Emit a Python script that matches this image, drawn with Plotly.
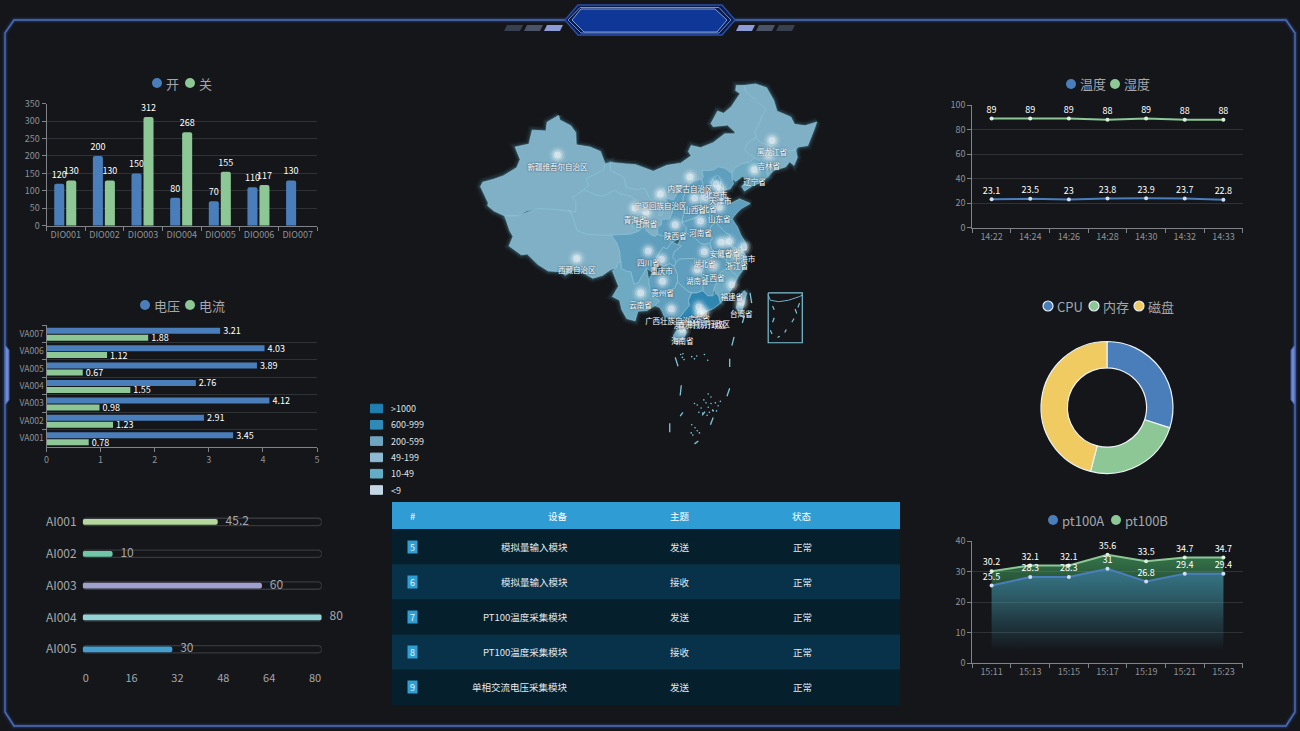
import plotly.graph_objects as go

W, H = 1300, 731
BG = "#14161a"
FONT = "Noto Sans CJK SC"
BLUE, GREEN, YELLOW = "#4a7ebb", "#8cc795", "#efcb62"
TICK, AXIS, GRID, LEG = "#8f9297", "#7f8388", "#303336", "#a4a7ac"

# ---------- chart data ----------
dio_names = ["DIO001", "DIO002", "DIO003", "DIO004", "DIO005", "DIO006", "DIO007"]
dio_open = [120, 200, 150, 80, 70, 110, 130]
dio_close = [130, 130, 312, 268, 155, 117, None]

va_names = ["VA001", "VA002", "VA003", "VA004", "VA005", "VA006", "VA007"]
va_voltage = [3.45, 2.91, 4.12, 2.76, 3.89, 4.03, 3.21]
va_current = [0.78, 1.23, 0.98, 1.55, 0.67, 1.12, 1.88]

ai_names = ["AI001", "AI002", "AI003", "AI004", "AI005"]
ai_values = [45.2, 10, 60, 80, 30]
ai_colors = ["#b4d89b", "#6fc7a8", "#a0a0cf", "#93d5d6", "#459fce"]
ai_ticks = [0, 16, 32, 48, 64, 80]
AI_MAX = 80

th_times = ["14:22", "14:24", "14:26", "14:28", "14:30", "14:32", "14:33"]
th_temp = [23.1, 23.5, 23, 23.8, 23.9, 23.7, 22.8]
th_hum = [89, 89, 89, 88, 89, 88, 88]

pt_times = ["15:11", "15:13", "15:15", "15:17", "15:19", "15:21", "15:23"]
pt_a = [25.5, 28.3, 28.3, 31, 26.8, 29.4, 29.4]
pt_b = [30.2, 32.1, 32.1, 35.6, 33.5, 34.7, 34.7]

pie_names = ["CPU", "内存", "磁盘"]
pie_values = [30, 24, 46]

tbl_headers = ["#", "设备", "主题", "状态"]
tbl_ids = ["5", "6", "7", "8", "9"]
tbl_devices = ["模拟量输入模块", "模拟量输入模块", "PT100温度采集模块", "PT100温度采集模块", "单相交流电压采集模块"]
tbl_topics = ["发送", "接收", "发送", "接收", "发送"]
tbl_status = ["正常", "正常", "正常", "正常", "正常"]

map_legend_labels = [">1000", "600-999", "200-599", "49-199", "10-49", "<9"]
map_legend_colors = ["#1f7fb0", "#2f8bb6", "#6ea6c1", "#8dbad0", "#63aec6", "#c3d6e3"]

# ---------- map data (lon, lat) ----------
XINJIANG = [(87.8,49.2),(85.7,48.3),(85.5,47.1),(83.0,47.2),(82.4,45.3),(79.9,44.9),(80.8,43.2),(80.2,42.1),(77.8,41.0),(76.0,40.5),(74.0,40.1),(73.6,39.5),(75.0,37.3),(74.9,36.9),(76.0,36.2),(78.0,35.5),(80.3,35.5),(82.0,36.2),(84.0,36.5),(86.0,36.1),(87.3,36.4),(89.5,36.2),(90.9,36.0),(91.0,37.3),(90.3,38.0),(92.4,39.1),(93.3,39.7),(92.8,40.6),(95.9,41.7),(96.3,42.5),(95.4,44.3),(93.5,44.9),(91.0,45.2),(90.9,46.9),(90.0,47.8),(88.0,48.6)]
XIZANG = [(78.0,35.5),(78.4,34.5),(78.9,33.5),(79.5,32.7),(78.8,31.4),(81.0,30.2),(82.1,30.3),(84.0,28.9),(85.9,28.0),(88.1,27.9),(89.0,27.4),(90.5,28.1),(92.1,27.8),(94.0,27.0),(95.8,27.4),(97.3,28.2),(98.3,28.4),(98.6,29.1),(99.1,29.3),(98.9,30.7),(98.4,31.8),(97.4,32.9),(95.0,32.9),(93.0,33.0),(91.2,33.5),(90.0,36.1),(87.3,36.4),(84.0,36.5),(80.3,35.5)]
QINGHAI = [(89.5,36.2),(90.9,36.0),(91.0,37.3),(90.3,38.0),(92.4,39.1),(94.5,38.4),(95.8,38.2),(98.0,39.0),(99.0,38.5),(100.9,38.2),(102.1,37.5),(102.9,36.8),(102.5,36.0),(102.0,35.4),(101.0,34.2),(102.3,33.4),(100.8,33.0),(99.5,33.0),(97.4,32.9),(95.0,32.9),(93.0,33.0),(91.2,33.5),(90.0,36.1)]
GANSU = [(92.4,39.1),(93.3,39.7),(92.8,40.6),(95.9,41.7),(96.3,42.6),(97.2,42.8),(97.2,41.7),(99.7,40.8),(100.1,39.4),(102.1,39.1),(103.4,39.3),(104.3,38.0),(104.9,37.5),(106.4,37.2),(107.3,37.0),(108.7,36.4),(108.0,35.1),(106.5,35.0),(106.5,34.3),(105.8,34.0),(105.8,33.0),(105.3,32.7),(104.4,33.0),(103.2,33.9),(102.3,33.4),(101.0,34.2),(102.0,35.4),(102.5,36.0),(102.9,36.8),(102.1,37.5),(100.9,38.2),(99.0,38.5),(98.0,39.0),(95.8,38.2),(94.5,38.4)]
NINGXIA = [(106.8,39.3),(106.2,38.7),(105.9,38.4),(104.9,37.5),(106.4,37.2),(106.0,35.6),(106.5,35.5),(106.9,36.5),(107.3,37.0),(107.4,37.9)]
NEIMENGGU = [(121.5,53.3),(120.1,53.3),(120.0,52.6),(120.8,52.2),(119.2,50.4),(117.8,49.5),(116.7,49.8),(115.5,48.1),(115.9,47.7),(118.5,47.9),(119.8,47.0),(119.9,46.7),(118.0,46.7),(115.9,45.5),(113.6,44.8),(111.9,45.1),(111.4,44.3),(111.9,43.7),(110.0,42.7),(107.5,42.4),(105.0,41.6),(101.8,42.5),(100.0,42.6),(97.2,42.8),(97.2,41.7),(99.7,40.8),(100.1,39.4),(102.1,39.1),(103.4,39.3),(104.3,38.0),(104.9,37.5),(105.9,38.4),(106.2,38.7),(106.8,39.3),(107.4,37.9),(108.7,37.7),(110.0,39.4),(111.1,39.5),(112.4,40.3),(113.8,40.5),(114.1,40.8),(113.9,41.7),(115.3,41.7),(116.0,41.8),(116.9,42.2),(118.0,42.0),(119.3,41.3),(119.8,42.0),(121.0,42.6),(122.4,42.8),(123.5,43.4),(122.5,43.9),(121.6,44.6),(122.1,45.3),(122.7,45.8),(123.7,46.2),(123.5,47.0),(124.4,48.3),(124.8,49.2),(125.5,50.0),(123.6,51.3),(121.8,52.5)]
HEILONGJIANG = [(121.5,53.3),(123.6,53.5),(125.6,53.0),(126.9,51.3),(127.5,49.8),(130.0,49.0),(130.7,48.0),(132.6,47.8),(134.7,48.3),(134.3,47.4),(133.1,45.1),(131.3,44.9),(130.9,44.5),(128.5,44.3),(127.5,44.6),(126.1,45.1),(124.5,45.5),(123.7,46.2),(123.5,47.0),(124.4,48.3),(124.8,49.2),(125.5,50.0),(123.6,51.3),(121.8,52.5)]
JILIN = [(123.7,46.2),(124.5,45.5),(126.1,45.1),(127.5,44.6),(128.5,44.3),(130.9,44.5),(131.2,43.5),(130.6,42.4),(129.8,42.9),(129.1,42.2),(128.0,42.0),(126.9,41.7),(125.9,40.9),(125.5,41.8),(124.5,42.9),(123.5,43.4),(122.5,43.9),(121.6,44.6),(122.1,45.3),(122.7,45.8)]
LIAONING = [(123.5,43.4),(124.5,42.9),(125.5,41.8),(125.9,40.9),(124.4,40.0),(123.2,39.7),(121.6,38.9),(121.1,39.5),(122.1,40.5),(121.2,40.9),(120.0,40.2),(119.3,40.6),(119.3,41.3),(119.8,42.0),(121.0,42.6),(122.4,42.8)]
HEBEI = [(119.3,41.3),(118.0,42.0),(116.9,42.2),(116.0,41.8),(115.3,41.7),(113.9,41.7),(114.1,40.8),(113.8,40.5),(114.1,39.5),(113.8,38.6),(113.6,37.2),(114.0,36.3),(115.3,36.1),(115.4,36.7),(116.2,37.4),(117.4,38.2),(117.8,38.6),(117.7,39.0),(118.2,39.1),(119.0,39.2),(119.6,39.9),(119.3,40.6)]
BEIJING = [(115.5,39.9),(116.3,39.5),(117.2,39.8),(117.4,40.3),(116.7,41.0),(116.0,40.7)]
TIANJIN = [(117.2,40.2),(117.7,39.6),(117.8,39.0),(117.5,38.6),(116.9,38.9),(117.2,39.5)]
SHANXI = [(111.1,39.5),(112.4,40.3),(113.8,40.5),(114.1,39.5),(113.8,38.6),(113.6,37.2),(114.0,36.3),(113.0,35.3),(112.0,35.1),(110.2,34.6),(110.5,36.0),(110.4,37.9)]
SHAANXI = [(110.0,39.4),(111.1,39.5),(110.4,37.9),(110.5,36.0),(110.2,34.6),(111.0,33.9),(110.9,33.2),(110.0,32.5),(108.4,31.9),(107.0,32.7),(105.8,33.0),(105.8,34.0),(106.5,34.3),(106.5,35.0),(108.0,35.1),(108.7,36.4),(107.3,37.0),(107.4,37.9),(108.7,37.7)]
SHANDONG = [(115.4,36.7),(116.2,37.4),(117.4,38.2),(118.5,38.0),(119.1,37.2),(120.7,37.8),(122.6,37.2),(121.0,36.5),(120.3,36.0),(119.3,35.1),(118.0,34.7),(116.4,34.6),(115.2,35.2),(115.3,36.1)]
HENAN = [(110.2,34.6),(112.0,35.1),(113.0,35.3),(114.0,36.3),(115.3,36.1),(115.2,35.2),(116.4,34.6),(115.5,34.1),(115.2,33.1),(115.8,32.5),(115.3,31.8),(114.3,31.6),(113.5,31.8),(112.7,32.4),(111.5,33.0),(110.9,33.2),(111.0,33.9)]
JIANGSU = [(116.4,34.6),(118.0,34.7),(119.3,35.1),(120.3,34.0),(120.9,32.9),(121.9,31.7),(121.2,31.3),(120.3,31.0),(119.6,31.2),(119.0,31.5),(118.5,32.2),(119.0,32.8),(118.2,33.2),(117.2,34.0)]
SHANGHAI = [(121.2,31.8),(121.9,31.6),(121.9,30.9),(121.2,30.8),(121.0,31.3)]
ANHUI = [(116.4,34.6),(117.2,34.0),(118.2,33.2),(119.0,32.8),(118.5,32.2),(119.0,31.5),(119.6,31.2),(119.2,30.3),(118.3,29.6),(117.4,29.7),(116.6,30.1),(115.9,30.3),(115.3,31.8),(115.8,32.5),(115.2,33.1),(115.5,34.1)]
ZHEJIANG = [(119.6,31.2),(120.3,31.0),(121.2,30.8),(121.9,30.0),(121.6,29.3),(121.7,28.5),(121.0,27.8),(120.4,27.2),(119.6,27.7),(118.8,28.2),(118.3,29.6),(119.2,30.3)]
JIANGXI = [(114.0,29.4),(115.9,29.8),(116.6,30.1),(117.4,29.7),(118.3,29.6),(118.2,28.3),(117.2,27.8),(116.5,26.5),(116.0,25.4),(115.8,24.6),(114.9,24.6),(114.0,25.3),(114.0,26.5),(113.7,27.6),(114.0,28.6)]
FUJIAN = [(118.2,28.3),(118.8,28.2),(119.6,27.7),(120.4,27.2),(119.8,26.2),(119.0,25.2),(118.1,24.4),(117.2,23.6),(116.9,24.5),(116.4,25.0),(116.0,25.4),(116.5,26.5),(117.2,27.8)]
HUBEI = [(110.0,32.5),(110.9,33.2),(111.5,33.0),(112.7,32.4),(113.5,31.8),(114.3,31.6),(115.3,31.8),(115.9,30.3),(116.1,29.8),(115.3,29.6),(114.0,29.4),(113.0,29.6),(111.5,29.7),(109.8,29.6),(109.2,29.2),(108.5,29.9),(108.8,30.6),(110.1,31.4),(109.5,31.6)]
CHONGQING = [(108.4,31.9),(110.1,31.4),(108.8,30.6),(108.5,29.9),(109.2,29.2),(108.8,28.6),(108.0,29.0),(106.8,28.6),(106.0,28.9),(105.5,29.5),(106.0,30.4),(106.8,31.2),(107.5,31.0)]
SICHUAN = [(97.4,32.9),(98.4,31.8),(98.9,30.7),(99.1,29.3),(99.2,28.3),(100.3,27.9),(100.9,27.9),(101.5,26.2),(102.3,26.4),(102.9,27.2),(103.8,28.4),(104.5,28.0),(105.3,27.7),(106.0,28.9),(105.5,29.5),(106.0,30.4),(106.8,31.2),(107.5,31.0),(108.4,31.9),(107.0,32.7),(105.8,33.0),(105.3,32.7),(104.4,33.0),(103.2,33.9),(102.3,33.4),(100.8,33.0),(99.5,33.0)]
YUNNAN = [(99.1,29.3),(98.6,29.1),(98.3,28.4),(97.6,28.0),(98.7,25.9),(97.6,24.5),(98.9,24.0),(99.3,22.7),(100.2,21.5),(101.7,21.2),(102.2,22.5),(103.9,22.6),(105.3,23.3),(106.2,23.9),(105.0,24.5),(104.4,25.2),(104.2,26.6),(103.8,28.4),(102.9,27.2),(102.3,26.4),(101.5,26.2),(100.9,27.9),(100.3,27.9),(99.2,28.3)]
GUIZHOU = [(104.4,25.2),(104.2,26.6),(104.5,27.3),(105.3,27.7),(106.3,27.9),(106.8,28.6),(108.0,29.0),(108.8,28.6),(109.4,27.5),(109.4,26.5),(108.9,25.6),(107.8,25.4),(106.5,25.1),(105.4,24.8),(105.0,24.5)]
HUNAN = [(108.8,28.6),(109.2,29.2),(109.8,29.6),(111.5,29.7),(113.0,29.6),(114.0,29.4),(114.0,28.6),(113.7,27.6),(114.0,26.5),(114.0,25.3),(112.9,25.0),(112.0,25.0),(111.3,25.2),(110.3,25.9),(109.4,26.5),(109.4,27.5)]
GUANGXI = [(105.0,24.5),(105.4,24.8),(106.5,25.1),(107.8,25.4),(108.9,25.6),(109.4,26.5),(110.3,25.9),(111.3,25.2),(112.0,25.0),(111.4,24.0),(111.6,23.3),(110.7,22.5),(109.7,21.5),(108.2,21.6),(107.0,21.8),(106.6,22.5),(106.2,23.0),(105.3,23.3),(106.2,23.9)]
GUANGDONG = [(111.4,24.0),(112.0,25.0),(112.9,25.0),(114.0,25.3),(114.9,24.6),(115.8,24.6),(116.4,25.0),(116.9,24.5),(117.2,23.6),(116.0,22.9),(114.2,22.3),(113.0,22.0),(111.8,21.6),(110.5,21.2),(110.3,20.3),(109.8,20.4),(109.7,21.5),(110.7,22.5),(111.6,23.3)]
HAINAN = [(108.7,19.2),(109.3,19.9),(110.7,20.1),(111.0,19.6),(110.5,18.7),(109.6,18.2),(108.7,18.6)]
TAIWAN = [(121.5,25.3),(122.0,25.0),(121.4,23.2),(120.8,21.9),(120.1,23.0),(120.7,24.5)]

LIGHT, MIDL, MID, DARK = "#7fb0c6", "#6faac3", "#5f9ebd", "#2f86b1"
map_polys = [XINJIANG, XIZANG, QINGHAI, GANSU, NEIMENGGU, NINGXIA, HEILONGJIANG, JILIN, LIAONING, HEBEI, SHANXI, SHAANXI,
             SHANDONG, HENAN, JIANGSU, ANHUI, ZHEJIANG, JIANGXI, FUJIAN, HUBEI, SICHUAN, CHONGQING, YUNNAN, GUIZHOU, HUNAN,
             GUANGXI, GUANGDONG, HAINAN, TAIWAN, BEIJING, TIANJIN, SHANGHAI]
map_fill = [LIGHT, LIGHT, LIGHT, LIGHT, LIGHT, LIGHT, LIGHT, LIGHT, MIDL, MID, MID, MID,
            MID, MID, MID, MID, MIDL, MID, MIDL, MID, MID, MID, MIDL, MID, MID,
            MID, DARK, MIDL, MIDL, DARK, DARK, DARK]

city_names = ["新疆维吾尔自治区", "西藏自治区", "青海省", "甘肃省", "宁夏回族自治区", "内蒙古自治区", "黑龙江省", "吉林省", "辽宁省", "北京市", "天津市", "河北省", "山西省", "陕西省", "山东省", "河南省", "江苏省", "安徽省", "上海市", "浙江省", "湖北省", "四川省", "重庆市", "贵州省", "云南省", "湖南省", "江西省", "福建省", "台湾省", "广东省", "广西壮族自治区", "澳门特别行政区", "香港特别行政区", "海南省"]
city_lon = [87.6, 91.1, 101.7, 103.7, 106.3, 111.7, 126.6, 126.0, 123.4, 116.4, 117.2, 114.5, 112.5, 109.0, 117.0, 113.6, 118.8, 117.3, 121.5, 120.2, 114.3, 104.1, 106.5, 106.7, 102.7, 113.0, 115.9, 119.3, 121.0, 113.3, 108.3, 113.5, 114.2, 110.3]
city_lat = [43.8, 29.7, 36.6, 36.0, 38.5, 40.8, 45.8, 43.9, 41.8, 39.9, 39.1, 38.0, 37.9, 34.3, 36.7, 34.8, 32.0, 31.9, 31.2, 30.3, 30.6, 30.7, 29.6, 26.6, 25.0, 28.2, 28.7, 26.1, 23.7, 23.1, 22.8, 22.2, 22.3, 20.0]

sea_dash_lon = [122.6, 122.9, None, 121.6, 121.2, None, 119.7, 119.3, None, 109.0, 109.5, None, 118.9, 118.9, None, 110.1, 109.9, None, 118.9, 118.4, None, 108.0, 108.0, None, 115.9, 115.4, None, 112.5, 113.2, None, 109.9, 110.4, None, 114.4, 113.9]
sea_dash_lat = [25.0, 23.6, None, 21.9, 20.9, None, 19.0, 17.8, None, 16.2, 15.0, None, 16.0, 14.9, None, 12.4, 11.0, None, 12.0, 10.9, None, 7.2, 6.0, None, 8.0, 7.0, None, 4.4, 4.8, None, 8.2, 8.7, None, 8.8, 8.3]
island_lon = [110.0, 110.3, 110.6, 110.4, 112.0, 112.5, 112.9, 114.3, 114.9, 115.0, 115.5, 112.5, 113.0, 113.7, 114.2, 114.6, 115.0, 115.5, 115.9, 116.3, 116.8, 117.2, 113.3, 114.0, 114.8, 115.2, 115.8, 116.5, 112.0, 112.6, 111.9, 112.2, 113.0, 113.4]
island_lat = [16.6, 16.2, 15.9, 16.7, 16.3, 16.0, 16.4, 16.6, 15.8, 11.2, 10.8, 9.9, 9.7, 9.3, 10.4, 10.0, 9.4, 9.9, 8.9, 10.0, 9.6, 10.2, 8.7, 8.6, 8.3, 8.7, 9.0, 8.9, 7.0, 6.6, 5.9, 5.6, 6.2, 5.9]
inset_box_lon = [125.9, 132.1, 132.1, 125.9, 125.9]
inset_box_lat = [25.0, 25.0, 18.2, 18.2, 25.0]
inset_coast_lon = [125.9, 126.3, 127.8, 129.6, 131.6, 132.1]
inset_coast_lat = [24.7, 24.0, 23.8, 24.0, 24.5, 24.7]
inset_dash_lon = [126.7, 127.0, None, 127.0, 126.7, None, 126.3, 126.6, None, 127.6, 128.0, None, 128.9, 129.2, None, 130.2, 130.6, None, 131.1, 130.8, None, 131.6, 131.3]
inset_dash_lat = [23.2, 22.7, None, 21.6, 21.0, None, 19.9, 19.4, None, 18.9, 19.1, None, 19.6, 20.0, None, 21.0, 21.5, None, 22.2, 22.8, None, 23.6, 23.0]


def px(x, y):
    return x / W, 1 - y / H


def dx(a, b):
    return [a / W, b / W]


def dy(top, bottom):
    return [1 - bottom / H, 1 - top / H]


def p(points, close=False):
    s = "M " + " L ".join("%.5f %.5f" % px(*q) for q in points)
    return s + (" Z" if close else "")


fig = go.Figure()
shapes, ann = [], []


def text(x, y, t, size=9, color="#fff", anchor="center"):
    shift = {"left": -1.5, "right": 1.5}.get(anchor, 0)
    X, Y = px(x + shift, y)
    ann.append(dict(x=X, y=Y, xref="paper", yref="paper", text=t, showarrow=False, xanchor=anchor, yanchor="middle",
                    font=dict(size=size, color=color, family=FONT)))


def legend(items):
    for cx, cy, color, label, ring in items:
        X0, Y0 = px(cx - 5, cy - 5)
        X1, Y1 = px(cx + 5, cy + 5)
        shapes.append(dict(type="circle", xref="paper", yref="paper", x0=X0, x1=X1, y0=Y0, y1=Y1, fillcolor=color,
                           line=dict(color="#e8eef5" if ring else color, width=1.2 if ring else 0)))
        text(cx + 8, cy, label, 13, LEG, "left")


def cat_axis(domain, anchor, **kw):
    d = dict(domain=domain, anchor=anchor, type="category", tickson="boundaries", showgrid=False, ticks="outside",
             ticklen=4, tickcolor=AXIS, showline=True, linecolor=AXIS, linewidth=1, zeroline=False, tickangle=0,
             tickfont=dict(size=9, color=TICK, family=FONT))
    d.update(kw)
    return d


def val_axis(domain, anchor, **kw):
    d = dict(domain=domain, anchor=anchor, showgrid=True, gridcolor=GRID, gridwidth=1, ticks="outside", ticklen=4,
             tickcolor=AXIS, showline=True, linecolor=AXIS, linewidth=1, zeroline=False, tickangle=0,
             tickfont=dict(size=9, color=TICK, family=FONT))
    d.update(kw)
    return d


lab = dict(size=9, color="#fff", family=FONT)
# ---------- chart 1 ----------
fig.add_bar(x=dio_names, y=dio_open, xaxis="x", yaxis="y", marker=dict(color=BLUE, cornerradius=2, line=dict(width=0)), width=0.26, offset=-0.30,
            text=dio_open, textposition="outside", textangle=0, constraintext="none", textfont=lab, cliponaxis=False, name="开")
fig.add_bar(x=dio_names, y=dio_close, xaxis="x", yaxis="y", marker=dict(color=GREEN, cornerradius=2, line=dict(width=0)), width=0.26, offset=0.01,
            text=dio_close, textposition="outside", textangle=0, constraintext="none", textfont=lab, cliponaxis=False, name="关")
# ---------- chart 2 ----------
fig.add_bar(y=va_names, x=va_voltage, orientation="h", xaxis="x2", yaxis="y2", marker=dict(color=BLUE, line=dict(width=0)), width=0.345, offset=0.0,
            text=va_voltage, textposition="outside", textangle=0, constraintext="none", textfont=lab, cliponaxis=False, name="电压")
fig.add_bar(y=va_names, x=va_current, orientation="h", xaxis="x2", yaxis="y2", marker=dict(color=GREEN, line=dict(width=0)), width=0.345, offset=-0.40,
            text=va_current, textposition="outside", textangle=0, constraintext="none", textfont=lab, cliponaxis=False, name="电流")
# ---------- chart 3: bars with an explicit base are rounded at both ends ----------
n_ai = len(ai_names)
fig.add_bar(y=ai_names, x=[AI_MAX] * n_ai, base=[0] * n_ai, orientation="h", xaxis="x3", yaxis="y3", width=0.23,
            marker=dict(color="rgba(0,0,0,0)", cornerradius=3.5, line=dict(color="#35383c", width=1.3)), hoverinfo="skip", name="track")
fig.add_bar(y=ai_names, x=ai_values, base=[0] * n_ai, orientation="h", xaxis="x3", yaxis="y3", width=0.18,
            marker=dict(color=ai_colors, cornerradius=3, line=dict(width=0)), name="AI")
fig.add_scatter(x=ai_values, y=ai_names, xaxis="x3", yaxis="y3", mode="markers+text", text=ai_values, textposition="middle right",
                marker=dict(size=11, opacity=0), cliponaxis=False, hoverinfo="skip", textfont=dict(size=12, color=LEG, family=FONT))
fig.add_scatter(x=ai_ticks, y=[0] * len(ai_ticks), xaxis="x4", yaxis="y4", mode="markers", marker=dict(opacity=0, size=1), hoverinfo="skip")
# ---------- chart 4 ----------
fig.add_scatter(x=th_times, y=th_temp, xaxis="x5", yaxis="y5", mode="lines+markers+text", text=th_temp, textposition="top center",
                textfont=lab, line=dict(color=BLUE, width=2), marker=dict(size=4, color="#cfe0f2"), cliponaxis=False, name="温度")
fig.add_scatter(x=th_times, y=th_hum, xaxis="x5", yaxis="y5", mode="lines+markers+text", text=th_hum, textposition="top center",
                textfont=lab, line=dict(color=GREEN, width=2), marker=dict(size=4, color="#d8f0dc"), cliponaxis=False, name="湿度")
# ---------- chart 5 ----------
fig.add_scatter(x=pt_times, y=pt_b, xaxis="x6", yaxis="y6", mode="lines+markers+text", text=pt_b, textposition="top center", textfont=lab,
                line=dict(color=GREEN, width=2), marker=dict(size=4, color="#d8f0dc"), cliponaxis=False, name="pt100B", fill="tozeroy",
                fillgradient=dict(type="vertical", colorscale=[[0, "rgba(70,170,100,0)"], [0.35, "rgba(70,170,100,0.12)"], [1, "rgba(70,170,100,0.6)"]], start=4, stop=34))
fig.add_scatter(x=pt_times, y=pt_a, xaxis="x6", yaxis="y6", mode="lines+markers+text", text=pt_a, textposition="top center", textfont=lab,
                line=dict(color=BLUE, width=2), marker=dict(size=4, color="#cfe0f2"), cliponaxis=False, name="pt100A", fill="tozeroy",
                fillgradient=dict(type="vertical", colorscale=[[0, "rgba(60,130,190,0)"], [1, "rgba(60,130,190,0.55)"]], start=4, stop=30))
# ---------- donut ----------
fig.add_pie(labels=pie_names, values=pie_values, hole=0.6, sort=False, direction="clockwise", rotation=0, textinfo="none", showlegend=False,
            domain=dict(x=dx(1041, 1173), y=dy(341.5, 473.5)), marker=dict(colors=[BLUE, GREEN, YELLOW], line=dict(color="#eef2f6", width=1.2)))


# ---------- map ----------
def chain(polys, index):
    out = []
    for poly in polys:
        out += [q[index] for q in poly] + [poly[0][index], None]
    return out


for width, alpha in ((9, 0.05), (6, 0.08), (3, 0.16)):
    fig.add_scatter(x=chain(map_polys, 0), y=chain(map_polys, 1), xaxis="x7", yaxis="y7", mode="lines", hoverinfo="skip",
                    line=dict(color="rgba(110,210,235,%s)" % alpha, width=width))
for poly, color in zip(map_polys, map_fill):
    xs = [q[0] for q in poly] + [poly[0][0]]
    ys = [q[1] for q in poly] + [poly[0][1]]
    fig.add_scatter(x=xs, y=ys, xaxis="x7", yaxis="y7", mode="lines", fill="toself", fillcolor=color, hoverinfo="skip",
                    line=dict(color="#8cc4d8", width=0.7))
fig.add_scatter(x=sea_dash_lon, y=sea_dash_lat, xaxis="x7", yaxis="y7", mode="lines", line=dict(color="#7fc6da", width=1.3), hoverinfo="skip")
fig.add_scatter(x=island_lon, y=island_lat, xaxis="x7", yaxis="y7", mode="markers", marker=dict(size=1.6, color="#7fc6da"), hoverinfo="skip")
fig.add_scatter(x=inset_box_lon, y=inset_box_lat, xaxis="x7", yaxis="y7", mode="lines", line=dict(color="#7cc3d6", width=1.2), hoverinfo="skip")
fig.add_scatter(x=inset_coast_lon, y=inset_coast_lat, xaxis="x7", yaxis="y7", mode="lines", line=dict(color="#7cc3d6", width=0.9), hoverinfo="skip")
fig.add_scatter(x=inset_dash_lon, y=inset_dash_lat, xaxis="x7", yaxis="y7", mode="lines", line=dict(color="#7cc3d6", width=1.2), hoverinfo="skip")
for size, alpha in ((18, 0.07), (14, 0.13), (11, 0.22), (7, 0.45)):
    fig.add_scatter(x=city_lon, y=city_lat, xaxis="x7", yaxis="y7", mode="markers", hoverinfo="skip",
                    marker=dict(size=size, color="rgba(255,255,255,%s)" % alpha, line=dict(width=0)))
fig.add_scatter(x=city_lon, y=city_lat, xaxis="x7", yaxis="y7", mode="text+markers", text=city_names, textposition="bottom center",
                marker=dict(size=13, opacity=0), hoverinfo="skip", cliponaxis=False,
                textfont=dict(size=7.5, color="#fff", family=FONT, shadow="0 0 2px #123"))

# ---------- layout pieces ----------
legend([(157, 83, BLUE, "开", False), (190, 83, GREEN, "关", False),
        (145, 305, BLUE, "电压", False), (190, 305, GREEN, "电流", False),
        (1071, 84, BLUE, "温度", False), (1115, 84, GREEN, "湿度", False),
        (1048, 306, BLUE, pie_names[0], True), (1094, 306, GREEN, pie_names[1], True), (1139, 306, YELLOW, pie_names[2], True),
        (1053, 520, BLUE, "pt100A", False), (1116, 520, GREEN, "pt100B", False)])

# map legend
for i, (label, color) in enumerate(zip(map_legend_labels, map_legend_colors)):
    cy = 408.5 + i * 16.3
    X0, Y0 = px(370.5, cy - 4.3)
    X1, Y1 = px(382.5, cy + 4.3)
    shapes.append(dict(type="rect", xref="paper", yref="paper", x0=X0, x1=X1, y0=Y0, y1=Y1, fillcolor=color, line=dict(color=color, width=1)))
    text(390, cy, label, 9, "#dfe2e6", "left")

# table
col_x = [412, 568, 680, 802]
def rect(x0, y0, x1, y1, color):
    X0, Y0 = px(x0, y0)
    X1, Y1 = px(x1, y1)
    shapes.append(dict(type="rect", xref="paper", yref="paper", x0=X0, x1=X1, y0=Y0, y1=Y1, fillcolor=color, line=dict(width=0), layer="below"))

rect(392, 502, 900, 529, "#2f9dd4")
for label, x in zip(tbl_headers, col_x):
    text(x, 515.5, label, 9.5, "#fff", "right" if x == 568 else "center")
for i in range(len(tbl_ids)):
    top = 529 + i * 35.2
    rect(392, top, 900, top + 35.2, "#05202c" if i % 2 == 0 else "#07324a")
    mid = top + 17.6
    X, Y = px(412.5, mid)
    ann.append(dict(x=X, y=Y, xref="paper", yref="paper", text=tbl_ids[i], showarrow=False, width=9, height=12, bgcolor="#2e9ed3", borderpad=0,
                    xanchor="center", yanchor="middle", align="center", valign="middle",
                    font=dict(size=9, color="#e8f4fa", family=FONT)))
    text(568, mid, tbl_devices[i], 9.5, "#e6e8ea", "right")
    text(680, mid, tbl_topics[i], 9.5, "#e6e8ea")
    text(802, mid, tbl_status[i], 9.5, "#e6e8ea")

# frame
frame_l = [(566, 20), (14, 20), (5, 33), (5, 712), (14, 726), (1286, 726), (1295, 712), (1295, 33), (1286, 20), (734, 20)]
for width, color in ((6, "rgba(60,100,210,0.10)"), (3.5, "rgba(60,100,210,0.22)"), (1.4, "#4f6fb5")):
    shapes.append(dict(type="path", xref="paper", yref="paper", path=p(frame_l), line=dict(color=color, width=width)))
for pts in ([(5, 345), (9, 350), (9, 400), (5, 405)], [(1295, 345), (1291, 350), (1291, 400), (1295, 405)]):
    shapes.append(dict(type="path", xref="paper", yref="paper", path=p(pts, True), fillcolor="#6d8bd0", line=dict(color="#3f5fb0", width=1)))
hex_out = [(565, 20), (578, 5), (722, 5), (735, 20), (722, 35), (578, 35)]
hex_mid = [(568, 20), (580, 7.5), (719, 7.5), (731, 20), (719, 33), (581, 33)]
hex_in = [(572, 20), (581, 9), (715, 9), (727, 20), (717, 32), (584, 32)]
shapes.append(dict(type="path", xref="paper", yref="paper", path=p(hex_out, True), fillcolor="#0c1c4a", line=dict(color="#2a4ea8", width=1.5)))
shapes.append(dict(type="path", xref="paper", yref="paper", path=p(hex_mid, True), fillcolor="rgba(0,0,0,0)", line=dict(color="#6f8fd8", width=1)))
shapes.append(dict(type="path", xref="paper", yref="paper", path=p(hex_in, True), fillcolor="#0e3797", line=dict(color="#7fa0e0", width=1)))
for x0, color in ((504, "#384050"), (524, "#4b5366"), (544, "#8d9bd6")):
    shapes.append(dict(type="path", xref="paper", yref="paper", path=p([(x0 + 3, 25), (x0 + 19, 25), (x0 + 16, 31), (x0, 31)], True), fillcolor=color, line=dict(width=0)))
for x0, color in ((739, "#8d9bd6"), (759, "#4b5366"), (779, "#384050")):
    shapes.append(dict(type="path", xref="paper", yref="paper", path=p([(x0, 25), (x0 + 16, 25), (x0 + 13, 31), (x0 - 3, 31)], True), fillcolor=color, line=dict(width=0)))

hidden = dict(visible=False, showgrid=False, zeroline=False)
cat_range = [-0.5, 6.5]
fig.update_layout(
    template="none",
    width=W, height=H, margin=dict(l=0, r=0, t=0, b=0, pad=0), autosize=False, paper_bgcolor=BG, plot_bgcolor="rgba(0,0,0,0)",
    showlegend=False, barmode="overlay", hovermode=False, shapes=shapes, annotations=ann, font=dict(family=FONT),
    xaxis=cat_axis(dx(46.5, 317), "y", categoryorder="array", categoryarray=dio_names),
    yaxis=val_axis(dy(103.7, 225.7), "x", range=[0, 350], dtick=50),
    xaxis2=val_axis(dx(46.5, 317), "y2", range=[0, 5], dtick=1, showgrid=False),
    yaxis2=cat_axis(dy(325, 447), "x2", showgrid=True, gridcolor=GRID, categoryorder="array", categoryarray=va_names,
                    tickfont=dict(size=8.6, color=TICK, family=FONT)),
    xaxis3=dict(domain=dx(82.7, 321.7), anchor="y3", range=[0, AI_MAX], **hidden),
    yaxis3=dict(domain=dy(506, 665.2), anchor="x3", type="category", categoryorder="array", categoryarray=ai_names, range=[4.5, -0.5],
                showgrid=False, zeroline=False, showline=False, ticks="", ticklabelstandoff=5, tickfont=dict(size=12, color=LEG, family=FONT)),
    xaxis4=dict(domain=dx(85.7, 315), anchor="y4", range=[0, AI_MAX], tickvals=ai_ticks, showgrid=False, zeroline=False, showline=False, ticks="",
                tickfont=dict(size=11, color=LEG, family=FONT)),
    yaxis4=dict(domain=dy(668, 670), anchor="x4", visible=False),
    xaxis5=cat_axis(dx(972.3, 1242.7), "y5", range=cat_range),
    yaxis5=val_axis(dy(105, 227.7), "x5", range=[0, 100], dtick=20),
    xaxis6=cat_axis(dx(972.3, 1242.7), "y6", range=cat_range),
    yaxis6=val_axis(dy(541.3, 663.3), "x6", range=[0, 40], dtick=10),
    xaxis7=dict(domain=dx(470, 830), anchor="y7", range=[71.68, 137.14], visible=False),
    yaxis7=dict(domain=dy(75, 460), anchor="x7", range=[2.2, 54.73], visible=False),
)

fig.write_html("out.html", config=dict(displayModeBar=False, responsive=False),
               post_script="document.body.style.margin='0';document.body.style.background='%s';document.body.style.overflow='hidden';" % BG)
